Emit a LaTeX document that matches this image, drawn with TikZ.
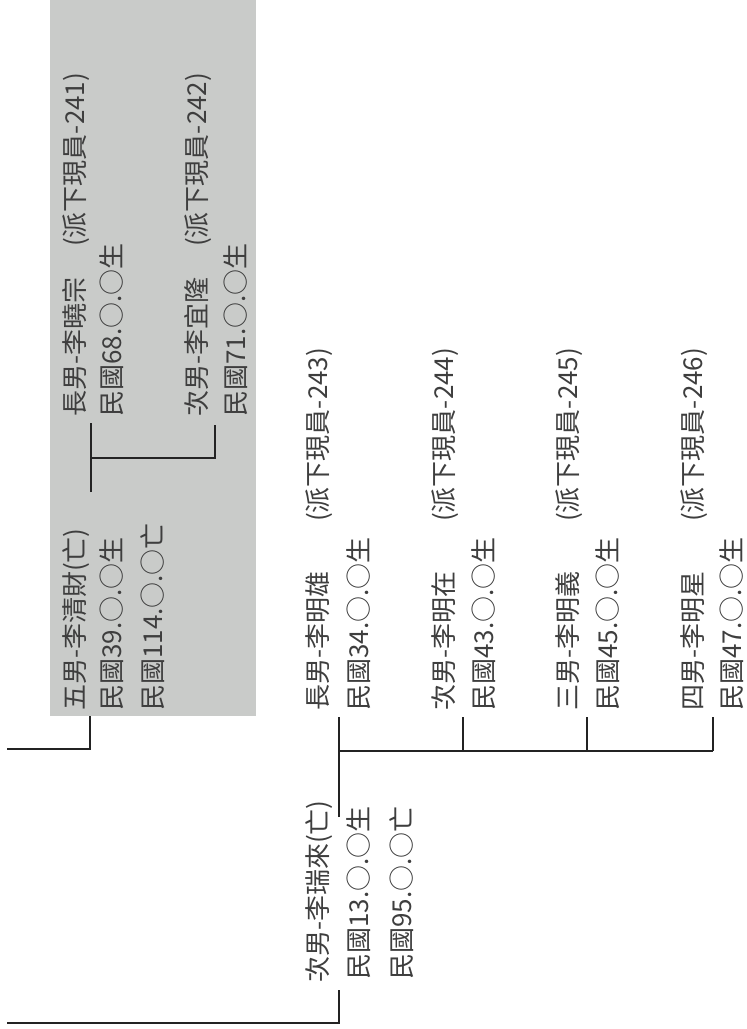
\documentclass[tikz,border=0pt]{standalone}
\usepackage{fontspec}
\newfontfamily\cjk{Noto Sans CJK TC}
\definecolor{boxgray}{RGB}{201,203,201}
\definecolor{ink}{RGB}{35,35,35}
\definecolor{txtink}{RGB}{62,62,62}
\begin{document}
\begin{tikzpicture}[x=1pt,y=-1pt,
  txt/.style={rotate=90, anchor=base west, inner sep=0pt, text=txtink,
    font=\cjk\fontsize{26}{26}\selectfont},
  ln/.style={draw=ink, line width=1.6pt}]
\useasboundingbox (0,0) rectangle (747,1029);
\fill[boxgray] (50,0) rectangle (256,716);

% ---- fifth son family (gray box)
\node[txt] (p5)  at (84,711)  {五男-李清財(亡)};
\node[txt] (p5b) at (121,711) {民國39.○.○生};
\node[txt] (p5d) at (162,711) {民國114.○.○亡};
\node[txt] (s1)  at (84,417)  {長男-李曉宗};
\node[txt] (s1n) at (84,247)  {(派下現員-241)};
\node[txt] (s1b) at (121,417) {民國68.○.○生};
\node[txt] (s2)  at (206,417) {次男-李宜隆};
\node[txt] (s2n) at (206,247) {(派下現員-242)};
\node[txt] (s2b) at (245,417) {民國71.○.○生};

\coordinate (g1) at (91,492);
\coordinate (g2) at (91,423);
\coordinate (g3) at (91,458);
\coordinate (g4) at (215,458);
\coordinate (g5) at (215,425);
\draw[ln] (g1) -- (g2);
\draw[ln] (g3) -- (g4) -- (g5);

\coordinate (t0) at (7,749);
\coordinate (t1) at (90,749);
\coordinate (t2) at (90,716);
\draw[ln] (t0) -- (t1) -- (t2);

% ---- second son family
\node[txt] (f)  at (327,983) {次男-李瑞來(亡)};
\node[txt] (fb) at (368,980) {民國13.○.○生};
\node[txt] (fd) at (411,980) {民國95.○.○亡};

\coordinate (b0) at (7,1023);
\coordinate (b1) at (339,1023);
\coordinate (b2) at (339,990);
\draw[ln] (b0) -- (b1) -- (b2);

\coordinate (m0) at (339,817);
\coordinate (m1) at (339,717);
\coordinate (m2) at (339,751);
\coordinate (m3) at (713,751);
\draw[ln] (m0) -- (m1);
\draw[ln] (m2) -- (m3);
\foreach \x/\n in {463/k2,587/k3,713/k4}{
  \coordinate (\n a) at (\x,751);
  \coordinate (\n b) at (\x,717);
  \draw[ln] (\n a) -- (\n b);
}

\node[txt] (c1)  at (327,711) {長男-李明雄};
\node[txt] (c1n) at (327,522) {(派下現員-243)};
\node[txt] (c1b) at (368,711) {民國34.○.○生};
\node[txt] (c2)  at (453,711) {次男-李明在};
\node[txt] (c2n) at (453,522) {(派下現員-244)};
\node[txt] (c2b) at (493,711) {民國43.○.○生};
\node[txt] (c3)  at (577,711) {三男-李明義};
\node[txt] (c3n) at (577,522) {(派下現員-245)};
\node[txt] (c3b) at (617,711) {民國45.○.○生};
\node[txt] (c4)  at (702,711) {四男-李明星};
\node[txt] (c4n) at (702,522) {(派下現員-246)};
\node[txt] (c4b) at (741,711) {民國47.○.○生};
\end{tikzpicture}
\end{document}
